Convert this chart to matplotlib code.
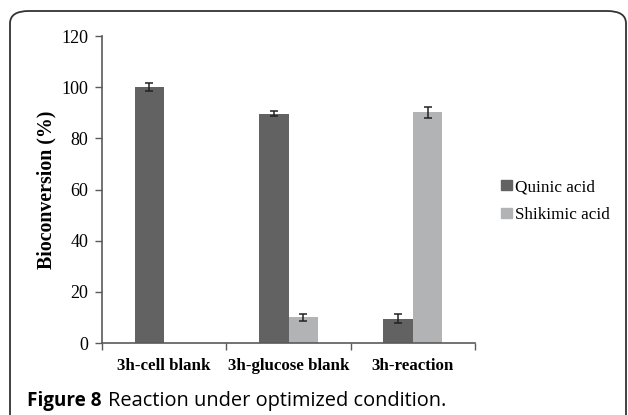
import matplotlib
matplotlib.use('Agg')
import matplotlib.pyplot as plt
import numpy as np
from matplotlib.patches import FancyBboxPatch, Patch

CATEGORIES = ['3h-cell blank', '3h-glucose blank', '3h-reaction']
QUINIC = [100.0, 89.7, 9.5]
QUINIC_ERR = [1.6, 1.0, 1.8]
SHIKIMIC = [0.0, 10.0, 90.1]
SHIKIMIC_ERR = [0.0, 1.3, 2.1]
SERIES_NAMES = ['Quinic acid', 'Shikimic acid']
Y_TICKS = [0, 20, 40, 60, 80, 100, 120]

DARK = '#626262'
LIGHT = '#b2b3b5'
AXIS = '#5a5a5a'
SERIF = 'Liberation Serif'


def main():
    fig = plt.figure(figsize=(6.28, 4.15), dpi=100)
    ax = fig.add_axes([102 / 628, 1 - 343 / 415, 373 / 628, 307 / 415])

    x = np.arange(len(CATEGORIES))
    w = 0.238
    err_kw = dict(ecolor='#222222', elinewidth=1.1, capthick=1.1)
    ax.bar(x - w / 2, QUINIC, w, color=DARK, yerr=QUINIC_ERR, capsize=3, error_kw=err_kw)
    shik_err = [e if e > 0 else np.nan for e in SHIKIMIC_ERR]
    ax.bar(x + w / 2, SHIKIMIC, w, color=LIGHT, yerr=shik_err, capsize=3, error_kw=err_kw)

    ax.set_xlim(-0.5, len(CATEGORIES) - 0.5)
    ax.set_ylim(0, 120)
    ax.set_yticks(Y_TICKS)
    ax.set_yticklabels([str(t) for t in Y_TICKS], fontfamily=SERIF, fontsize=13)
    ax.set_xticks(np.arange(len(CATEGORIES) + 1) - 0.5)
    ax.set_xticklabels([])
    ax.set_xticks(x, minor=True)
    ax.set_xticklabels(CATEGORIES, minor=True, fontfamily=SERIF, fontsize=12.2,
                       fontweight='bold')
    ax.tick_params(axis='x', which='minor', length=0, pad=11)
    ax.tick_params(axis='x', which='major', length=5, width=1, color=AXIS, direction='out')
    ax.tick_params(axis='y', length=5, width=1, color=AXIS, direction='out', pad=5)

    for s in ['top', 'right']:
        ax.spines[s].set_visible(False)
    for s in ['left', 'bottom']:
        ax.spines[s].set_color(AXIS)
        ax.spines[s].set_linewidth(1.2)

    ax.set_ylabel('Bioconversion (%)', fontfamily=SERIF, fontsize=14.3,
                  fontweight='bold', labelpad=3)

    handles = [Patch(color=DARK), Patch(color=LIGHT)]
    fig.legend(handles, SERIES_NAMES, loc='center left',
               bbox_to_anchor=(486 / 628, 1 - 201 / 415), frameon=False,
               prop={'family': SERIF, 'size': 12.3}, handlelength=0.6,
               handleheight=0.6, handletextpad=0.2, labelspacing=0.7)

    # rounded frame around figure
    frame = FancyBboxPatch((10 / 628, -0.1), 616 / 628, 1.1 - 11 / 415,
                           boxstyle='round,pad=0,rounding_size=0.03',
                           transform=fig.transFigure, fill=False,
                           edgecolor='#333333', linewidth=1.3, clip_on=False)
    fig.patches.append(frame)

    cap_y = 1 - 401 / 415
    t1 = fig.text(27 / 628, cap_y, 'Figure 8', fontfamily='Open Sans',
                  fontweight='bold', fontsize=13.6, va='center', ha='left')
    fig.canvas.draw()
    bb = t1.get_window_extent()
    fig.text((bb.x1 + 7) / 628, cap_y, 'Reaction under optimized condition.',
             fontfamily='Open Sans', fontsize=14.4, va='center', ha='left')

    fig.savefig('out.png', dpi=100)


if __name__ == '__main__':
    main()
